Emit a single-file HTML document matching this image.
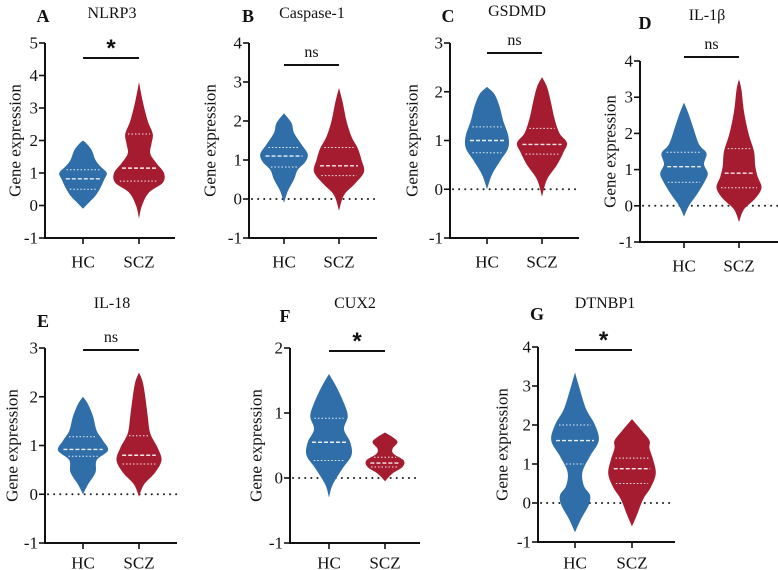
<!DOCTYPE html>
<html><head><meta charset="utf-8"><style>
body{margin:0;background:#fff;}
svg{display:block;font-family:"Liberation Serif",serif;}
</style></head><body>
<svg id="fig" width="778" height="570" viewBox="0 0 778 570" xmlns="http://www.w3.org/2000/svg"></svg>
<script>
const groups = ["HC","SCZ"];
const panelTitles = ["NLRP3","Caspase-1","GSDMD","IL-1β","IL-18","CUX2","DTNBP1"];
const panelLetters = ["A","B","C","D","E","F","G"];
const panelSig = ["*","ns","ns","ns","ns","*","*"];
const yMax = [5,4,3,4,3,2,4];
// violin profiles: [value, relative half-width 0..1]
const hcProfiles = [
 [[-0.1,0],[0.1,0.25],[0.3,0.5],[0.55,0.7],[0.8,0.85],[1.0,0.95],[1.2,0.7],[1.4,0.5],[1.7,0.35],[1.9,0.15],[2.0,0]],
 [[-0.1,0],[0.2,0.15],[0.5,0.4],[0.75,0.55],[0.95,0.85],[1.15,0.95],[1.4,0.7],[1.7,0.4],[1.95,0.3],[2.2,0]],
 [[0,0],[0.3,0.2],[0.6,0.55],[0.85,0.85],[1.1,0.85],[1.4,0.65],[1.7,0.5],[1.95,0.3],[2.1,0]],
 [[-0.3,0],[0,0.2],[0.35,0.55],[0.7,0.85],[0.9,0.95],[1.15,0.8],[1.45,0.9],[1.7,0.6],[2.2,0.35],[2.6,0.15],[2.85,0]],
 [[0,0],[0.2,0.2],[0.45,0.5],[0.7,0.55],[0.9,1.0],[1.1,0.8],[1.3,0.55],[1.6,0.4],[1.85,0.2],[2.0,0]],
 [[-0.3,0],[-0.1,0.15],[0.15,0.55],[0.35,0.9],[0.55,0.85],[0.75,0.6],[0.95,0.75],[1.15,0.6],[1.4,0.3],[1.6,0]],
 [[-0.75,0],[-0.4,0.25],[-0.05,0.55],[0.2,0.6],[0.45,0.35],[0.8,0.3],[1.2,0.6],[1.6,0.95],[2.0,0.8],[2.4,0.45],[2.9,0.2],[3.35,0]]
];
const sczProfiles = [
 [[-0.4,0],[0,0.12],[0.4,0.4],[0.7,0.95],[1.0,1.0],[1.3,0.7],[1.6,0.45],[1.9,0.5],[2.2,0.55],[2.6,0.35],[3.2,0.15],[3.8,0]],
 [[-0.3,0],[0.1,0.2],[0.4,0.65],[0.7,1.0],[1.0,0.9],[1.3,0.75],[1.6,0.5],[2.0,0.3],[2.5,0.14],[2.85,0]],
 [[-0.15,0],[0.2,0.2],[0.5,0.6],[0.75,0.85],[0.95,1.0],[1.15,0.7],[1.45,0.5],[1.8,0.35],[2.1,0.2],[2.3,0]],
 [[-0.45,0],[-0.1,0.2],[0.2,0.65],[0.5,0.9],[0.8,0.75],[1.1,0.65],[1.5,0.6],[2.0,0.38],[2.6,0.2],[3.2,0.1],[3.5,0]],
 [[-0.05,0],[0.2,0.2],[0.45,0.65],[0.7,0.9],[0.95,0.75],[1.25,0.45],[1.6,0.35],[2.0,0.25],[2.3,0.15],[2.5,0]],
 [[-0.05,0],[0.07,0.3],[0.17,0.7],[0.27,0.75],[0.37,0.35],[0.45,0.3],[0.55,0.5],[0.63,0.3],[0.7,0]],
 [[-0.6,0],[-0.3,0.2],[0.1,0.45],[0.4,0.75],[0.75,0.95],[1.1,0.85],[1.4,0.7],[1.6,0.7],[1.85,0.4],[2.15,0]]
];
const hcStats = [[0.5,0.82,1.1],[0.82,1.1,1.32],[0.75,1.0,1.28],[0.65,1.08,1.48],[0.78,0.92,1.18],[0.27,0.55,0.92],[1.0,1.6,2.0]];
const sczStats = [[0.75,1.15,2.2],[0.6,0.85,1.32],[0.72,0.92,1.25],[0.5,0.9,1.58],[0.62,0.8,1.2],[0.17,0.23,0.32],[0.5,0.88,1.15]];

// layout (not data)
const L = [
 {ax:45,top:43,bot:238,xe:175,hc:83,scz:139,tx:112,ty:18,lx:43,ly:22,bar:58,yl:15,xl:262,zero:false,hw:25},
 {ax:249,top:43,bot:238,xe:377,hc:284,scz:339,tx:312,ty:18,lx:248,ly:22,bar:65,yl:210,xl:262,zero:true,hw:25},
 {ax:450,top:43,bot:238,xe:579,hc:487,scz:542,tx:517,ty:16,lx:448,ly:22,bar:53,yl:412,xl:262,zero:true,hw:25},
 {ax:640,top:61,bot:242,xe:778,hc:684,scz:739,tx:707,ty:20,lx:645,ly:29,bar:57,yl:610,xl:266,zero:true,hw:25},
 {ax:45,top:348,bot:543,xe:177,hc:83,scz:139,tx:112,ty:308,lx:43,ly:327,bar:350,yl:12,xl:563,zero:true,hw:25},
 {ax:290,top:348,bot:543,xe:420,hc:329,scz:385,tx:355,ty:308,lx:285,ly:322,bar:351,yl:256,xl:563,zero:true,hw:25},
 {ax:538,top:347,bot:542,xe:675,hc:575,scz:632,tx:605,ty:308,lx:537,ly:320,bar:350,yl:502,xl:563,zero:true,hw:25}
];
const NS="http://www.w3.org/2000/svg";
const svg=document.getElementById('fig');
function mk(tag,attrs,parent){const e=document.createElementNS(NS,tag);for(const k in attrs)e.setAttribute(k,attrs[k]);(parent||svg).appendChild(e);return e;}
function sideCurve(pts,cx,sign){let s='';for(let i=0;i<pts.length-1;i++){const p0=pts[Math.max(0,i-1)],p1=pts[i],p2=pts[i+1],p3=pts[Math.min(pts.length-1,i+2)];
    const c1=[p1[0]+(p2[0]-p0[0])/6,p1[1]+(p2[1]-p0[1])/6],c2=[p2[0]-(p3[0]-p1[0])/6,p2[1]-(p3[1]-p1[1])/6];
    s+=` C${cx+sign*c1[0]},${c1[1]} ${cx+sign*c2[0]},${c2[1]} ${cx+sign*p2[0]},${p2[1]}`;}return s;}
function violinPath(prof,cx,yS,hw){
  const pts=prof.map(p=>[hw*p[1],yS(p[0])]);
  return `M${cx},${pts[0][1]}`+sideCurve(pts,cx,1)+sideCurve(pts.slice().reverse(),cx,-1)+'Z';
}
function widthAt(prof,v){for(let i=0;i<prof.length-1;i++){if(v>=prof[i][0]&&v<=prof[i+1][0]){const t=(v-prof[i][0])/(prof[i+1][0]-prof[i][0]);return prof[i][1]+t*(prof[i+1][1]-prof[i][1]);}}return 0;}
for(let i=0;i<7;i++){
  const l=L[i];
  const g=mk('g',{});
  
  
  const yMin=-1;
  const yS=v=>l.bot-(v-yMin)/(yMax[i]-yMin)*(l.bot-l.top);
  const t=mk('text',{x:l.tx,y:l.ty,'text-anchor':'middle','font-size':16,fill:'#111'},g);t.textContent=panelTitles[i];
  
  const lt=mk('text',{x:l.lx,y:l.ly,'text-anchor':'middle','font-size':18,'font-weight':'bold',fill:'#111'},g);lt.textContent=panelLetters[i];
  
  const yl=mk('text',{x:l.yl,y:(l.top+l.bot)/2,'text-anchor':'middle','dominant-baseline':'central','font-size':17,fill:'#111',transform:`rotate(-90 ${l.yl} ${(l.top+l.bot)/2})`},g);yl.textContent='Gene expression';
  
  if(l.zero){const z=mk('line',{x1:l.ax+3,x2:l.xe,y1:yS(0),y2:yS(0),stroke:'#222','stroke-width':2,'stroke-dasharray':'0.1 6','stroke-linecap':'round'},g);
    }
  const profs=[hcProfiles[i],sczProfiles[i]],stats=[hcStats[i],sczStats[i]],cols=['#2f6ea8','#a51c30'],cxs=[l.hc,l.scz];
  for(let k=0;k<2;k++){
    const p=mk('path',{d:violinPath(profs[k],cxs[k],yS,l.hw),fill:cols[k]},g);
    
    stats[k].forEach((v,j)=>{const w=widthAt(profs[k],v)*l.hw*0.8;
      const q=mk('line',{x1:cxs[k]-w,x2:cxs[k]+w,y1:yS(v),y2:yS(v),stroke:'#fff','stroke-width':j==1?1.4:1,'stroke-dasharray':j==1?'4 2':'1.5 2','opacity':0.9},g);
      });
  }
  const ax=mk('line',{x1:l.ax,x2:l.ax,y1:l.top,y2:l.bot,stroke:'#111','stroke-width':2},g);
  
  const xa=mk('line',{x1:l.ax-1,x2:l.xe,y1:l.bot,y2:l.bot,stroke:'#111','stroke-width':2},g);
  
  for(let v=yMin;v<=yMax[i];v++){
    mk('line',{x1:l.ax-6,x2:l.ax,y1:yS(v),y2:yS(v),stroke:'#111','stroke-width':1.6},g);
    const tl=mk('text',{x:l.ax-7,y:yS(v),'text-anchor':'end','dominant-baseline':'central','font-size':17,fill:'#111'},g);tl.textContent=v;
    
  }
  for(let k=0;k<2;k++){
    mk('line',{x1:cxs[k],x2:cxs[k],y1:l.bot,y2:l.bot+6,stroke:'#111','stroke-width':1.6},g);
    const xl=mk('text',{x:cxs[k],y:l.xl,'text-anchor':'middle','dominant-baseline':'central','font-size':17,fill:'#111'},g);xl.textContent=groups[k];
    
  }
  const b=mk('line',{x1:l.hc,x2:l.scz,y1:l.bar,y2:l.bar,stroke:'#111','stroke-width':2},g);
  
  const s=mk('text',{x:(l.hc+l.scz)/2,y:panelSig[i]=='*'?l.bar-2:l.bar-8,'text-anchor':'middle','font-size':panelSig[i]=='*'?24:16,'font-weight':panelSig[i]=='*'?'bold':'normal',fill:'#111','font-family':panelSig[i]=='*'?'Liberation Sans, sans-serif':'Liberation Serif, serif'},g);
  s.textContent=panelSig[i];
  
}
</script>
</body></html>
